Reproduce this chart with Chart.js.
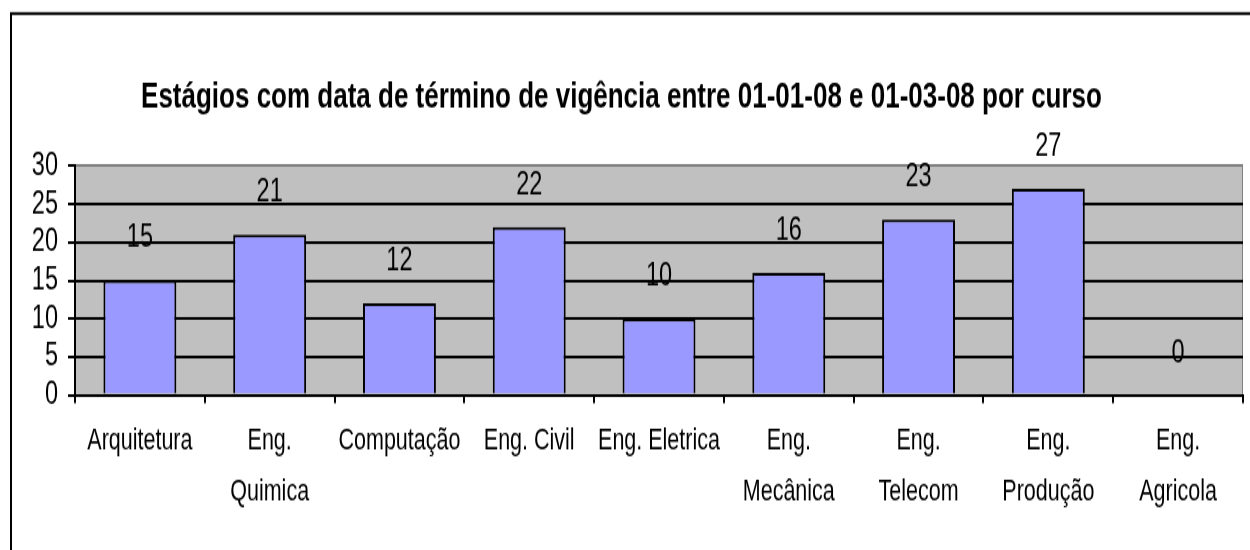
<!DOCTYPE html>
<html>
<head>
<meta charset="utf-8">
<script src="https://cdn.jsdelivr.net/npm/chart.js@4/dist/chart.umd.min.js"></script>
<style>
    html, body { margin: 0; padding: 0; background: #fff; width: 1250px; height: 550px; }
    #outer { width: 1250px; height: 550px; overflow: hidden; position: relative; }
    #wrap { position: absolute; left: 0; top: 0; width: 1250px; height: 399px; transform: scaleY(1.3784); transform-origin: 0 0; }
</style>
</head>
<body>
<div id="outer"><div id="wrap"><canvas id="chart" width="1250" height="399"></canvas></div></div>
<script>
const TITLE = "Estágios com data de término de vigência entre 01-01-08 e 01-03-08 por curso";
const cursos = [
    "Arquitetura",
    ["Eng.", "Quimica"],
    "Computação",
    "Eng. Civil",
    "Eng. Eletrica",
    ["Eng.", "Mecânica"],
    ["Eng.", "Telecom"],
    ["Eng.", "Produção"],
    ["Eng.", "Agricola"]
];
const estagios = [15, 21, 12, 22, 10, 16, 23, 27, 0];
const yTicks = [0, 5, 10, 15, 20, 25, 30];

const FONT = "'Liberation Sans', Arial, sans-serif";

// gray plot background + outer frame
const background = {
    id: 'background',
    beforeDraw(chart) {
        const { ctx, chartArea: a } = chart;
        ctx.save();
        ctx.strokeStyle = '#000';
        ctx.lineWidth = 2;
        ctx.strokeRect(11, 9.8, 1400, 600);
        ctx.fillStyle = '#C0C0C0';
        ctx.fillRect(a.left, a.top, a.right - a.left, a.bottom - a.top);
        ctx.strokeStyle = '#808080';
        ctx.lineWidth = 1;
        ctx.beginPath();
        ctx.moveTo(a.right - 0.5, a.top);
        ctx.lineTo(a.right - 0.5, a.bottom);
        ctx.stroke();
        ctx.restore();
    }
};

// value labels above bars
const valueLabels = {
    id: 'valueLabels',
    afterDatasetsDraw(chart) {
        const { ctx } = chart;
        const meta = chart.getDatasetMeta(0);
        ctx.save();
        ctx.font = "23.5px " + FONT;
        ctx.fillStyle = '#000';
        ctx.textAlign = 'center';
        ctx.textBaseline = 'middle';
        meta.data.forEach((bar, i) => {
            ctx.fillText(String(estagios[i]), bar.x, bar.y - 30.5);
        });
        ctx.restore();
    }
};

new Chart(document.getElementById('chart'), {
    type: 'bar',
    data: {
        labels: cursos,
        datasets: [{
            data: estagios,
            backgroundColor: '#9999FF',
            borderColor: '#000',
            borderWidth: 2,
            categoryPercentage: 1,
            barPercentage: 0.562
        }]
    },
    options: {
        responsive: false,
        animation: false,
        devicePixelRatio: 1,
        layout: { padding: { left: 0, right: 7, top: 0, bottom: 0 } },
        plugins: {
            legend: { display: false },
            tooltip: { enabled: false },
            title: {
                display: true,
                text: TITLE,
                color: '#000',
                font: { family: FONT, size: 26, weight: 'bold', lineHeight: 1.2 },
                padding: { top: 54.8, bottom: 34.4 }
            }
        },
        scales: {
            x: {
                border: { color: '#000', width: 2 },
                grid: { offset: true, drawOnChartArea: false, color: '#000', lineWidth: 2, tickLength: 6 },
                ticks: {
                    color: '#000',
                    font: { family: FONT, size: 21.5, lineHeight: 1.69 },
                    padding: 9.6,
                    maxRotation: 0,
                    autoSkip: false
                },
                afterFit(scale) { scale.height = 112.4; }
            },
            y: {
                min: 0,
                max: 30,
                afterBuildTicks(scale) { scale.ticks = yTicks.map(v => ({ value: v })); },
                border: { color: '#000', width: 2 },
                grid: {
                    color: c => (c.tick && c.tick.value === 30) ? '#808080' : '#000',
                    tickColor: '#000',
                    lineWidth: 2,
                    tickLength: 7
                },
                ticks: {
                    color: '#000',
                    font: { family: FONT, size: 23.5 },
                    padding: 10,
                    autoSkip: false
                },
                afterFit(scale) { scale.width = 75; }
            }
        }
    },
    plugins: [background, valueLabels]
});
</script>
</body>
</html>
